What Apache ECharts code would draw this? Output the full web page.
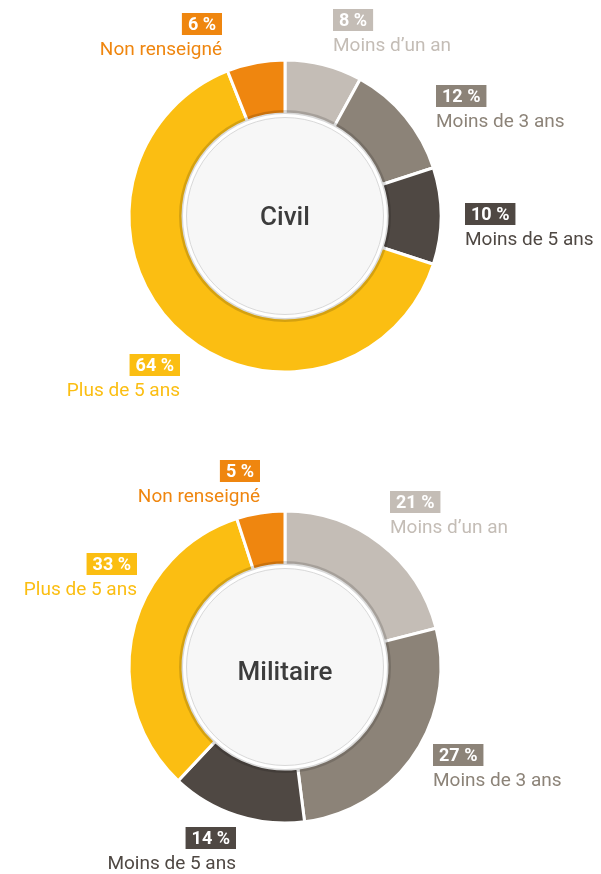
<!DOCTYPE html>
<html>
<head>
<meta charset="utf-8">
<script src="https://cdn.jsdelivr.net/npm/echarts@6/dist/echarts.min.js"></script>
<style>
  html, body { margin: 0; padding: 0; background: #fff; }
  #chart { width: 601px; height: 874px; }
</style>
</head>
<body>
<div id="chart"></div>
<script>
const categories = ['Moins d’un an', 'Moins de 3 ans', 'Moins de 5 ans', 'Plus de 5 ans', 'Non renseigné'];
const civilValues = [8, 12, 10, 64, 6];
const militaireValues = [21, 27, 14, 33, 5];
const groupNames = ['Civil', 'Militaire'];
const colors = ['#c4bdb6', '#8c8378', '#4f4843', '#fbbe12', '#ef860f'];

const chart = echarts.init(document.getElementById('chart'));

// label anchors, relative to the pie centre
const civilAnchors = [[48, -181], [151, -105], [180, 13], [-105, 164], [-63, -177]];
const militaireAnchors = [[105, -150], [148, 103], [-49, 186], [-148, -88], [-25, -181]];

function buildPie(name, values, center, anchors, titleShift) {
  const data = categories.map((cat, i) => ({
    name: cat,
    value: values[i],
    itemStyle: { color: colors[i] },
    label: {
      rich: {
        p: { backgroundColor: colors[i] },
        n: { color: colors[i] }
      }
    }
  }));

  return [
    {
      type: 'pie',
      center: center,
      radius: [102, 156],
      startAngle: 90,
      avoidLabelOverlap: false,
      silent: true,
      itemStyle: { borderColor: '#fff', borderWidth: 3 },
      labelLine: { show: false },
      label: {
        show: true,
        position: 'outside',
        formatter: p => '{p|' + p.value + ' %}\n{n|' + p.name + '}',
        rich: {
          p: {
            color: '#fff',
            fontFamily: 'Roboto',
            fontWeight: 'bold',
            fontSize: 18,
            lineHeight: 18,
            height: 18,
            padding: [3, 6, 1, 6]
          },
          n: {
            fontFamily: 'Roboto',
            fontSize: 19,
            lineHeight: 30,
            padding: [4, 0, 0, 0]
          }
        }
      },
      labelLayout: params => {
        const a = anchors[params.dataIndex];
        return {
          x: center[0] + a[0],
          y: center[1] + a[1],
          align: a[0] > 0 ? 'left' : 'right',
          verticalAlign: 'middle'
        };
      },
      data: data
    },
    {
      // darker band on the inner edge
      type: 'pie',
      center: center,
      radius: [101, 106],
      silent: true,
      label: { show: false },
      itemStyle: { color: 'rgba(0,0,0,0.15)' },
      data: [1]
    },
    {
      type: 'pie',
      center: center,
      radius: [0, 102],
      silent: true,
      label: { show: false },
      itemStyle: { color: '#fff' },
      data: [1]
    },
    {
      type: 'pie',
      center: center,
      radius: [0, 98.5],
      silent: true,
      itemStyle: { color: '#f7f7f7', borderColor: '#d9d9d9', borderWidth: 1 },
      label: {
        show: true,
        position: 'center',
        formatter: '{b}',
        fontFamily: 'Roboto',
        fontSize: 26,
        fontWeight: 500,
        color: '#3c3c3c',
        offset: [0, titleShift]
      },
      data: [{ name: name, value: 1 }]
    }
  ];
}

chart.setOption({
  animation: false,
  series: [
    ...buildPie(groupNames[0], civilValues, [285, 216], civilAnchors, 2),
    ...buildPie(groupNames[1], militaireValues, [285, 667], militaireAnchors, 6)
  ]
});
</script>
</body>
</html>
